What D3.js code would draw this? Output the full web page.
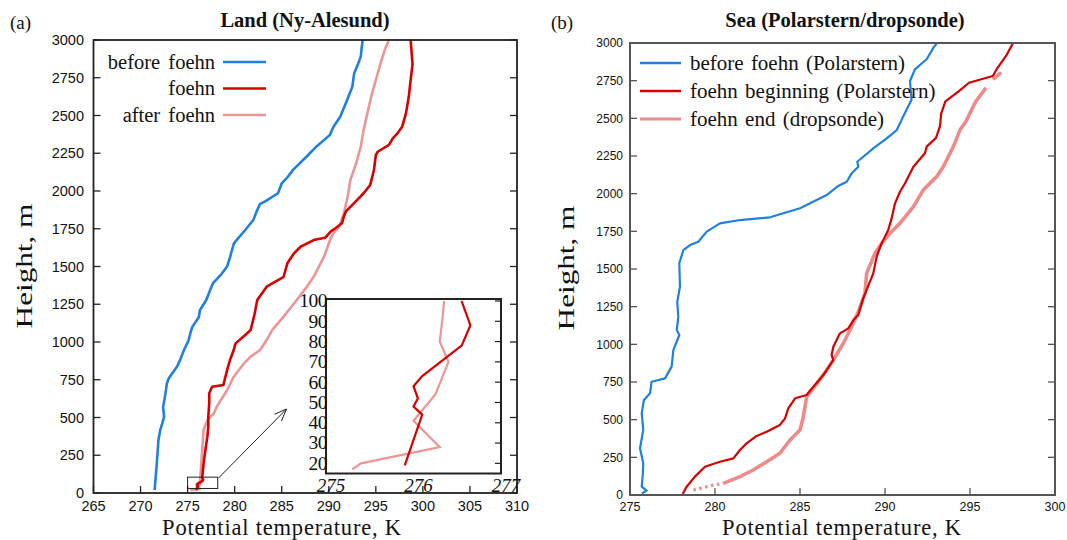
<!DOCTYPE html>
<html>
<head>
<meta charset="utf-8">
<script src="https://cdn.jsdelivr.net/npm/d3@7"></script>
<style>
  html, body { margin: 0; padding: 0; background: #fff; }
  svg { display: block; }
  .tick-sans { font-family: "Liberation Sans", Arial, sans-serif; fill: #111; }
  .serif { font-family: "Liberation Serif", "Times New Roman", serif; fill: #111; }
</style>
</head>
<body>
<svg id="chart" width="1067" height="540"></svg>
<script>
// ---- Land (Ny-Alesund): potential temperature [K] vs height [m] ----
const landBefore = [
  [271.5,20],[271.6,100],[271.7,175],[271.8,260],[271.9,350],[272.1,420],[272.3,460],[272.5,505],
  [272.4,570],[272.6,640],[272.8,725],[273.0,760],[273.9,840],[274.2,880],[274.6,945],[275.1,1010],
  [275.3,1060],[275.5,1100],[276.2,1165],[276.3,1210],[277.0,1280],[277.3,1330],[277.7,1390],
  [278.6,1450],[279.2,1500],[279.5,1560],[279.9,1650],[280.2,1675],[281.1,1740],[282.0,1810],
  [282.3,1860],[282.7,1915],[283.2,1930],[284.6,1985],[285.0,2050],[285.6,2090],[286.2,2140],
  [287.6,2225],[288.7,2295],[290.1,2370],[290.5,2425],[291.2,2490],[291.8,2580],[292.5,2690],
  [292.7,2780],[293.1,2840],[293.4,2890],[293.5,2950],[293.6,3000]
];
const landFoehn = [
  [275.9,19],[276.1,44],[276.0,48],[276.05,52],[276.0,58],[276.1,63],[276.55,78],[276.65,88],
  [276.55,100],[276.7,196],[276.9,290],[277.1,373],[277.2,440],[277.2,505],[277.3,600],[277.3,660],
  [277.6,704],[278.8,715],[279.2,815],[279.5,880],[279.9,947],[280.1,991],[281.0,1040],[281.7,1080],
  [282.1,1180],[282.4,1278],[283.4,1366],[285.2,1432],[285.6,1521],[286.3,1587],[287.0,1631],
  [288.4,1675],[289.6,1690],[290.2,1731],[290.7,1753],[291.4,1786],[291.6,1830],[291.8,1863],
  [293.0,1940],[293.7,1985],[294.4,2040],[294.8,2139],[295.0,2238],[295.2,2260],[296.4,2305],
  [296.8,2349],[297.3,2382],[297.8,2426],[298.2,2514],[298.5,2624],[298.7,2735],[298.9,2840],
  [298.8,2920],[298.7,3000]
];
const landAfter = [
  [275.3,17],[275.4,20],[276.3,28],[276.0,41],[276.25,54],[276.4,70],[276.3,80],[276.33,91],
  [276.35,100],[276.5,240],[276.7,417],[277.1,483],[277.8,528],[278.1,571],[279.2,682],[279.9,770],
  [281.0,859],[281.7,903],[282.7,947],[283.4,1013],[284.0,1080],[285.2,1168],[286.6,1278],
  [287.6,1360],[288.4,1432],[289.5,1565],[290.2,1687],[290.5,1720],[291.1,1764],[291.6,1852],
  [292.0,1962],[292.3,2073],[292.9,2183],[293.4,2293],[293.7,2404],[294.1,2514],[294.5,2624],
  [295.0,2735],[295.5,2845],[296.0,2944],[296.4,3000]
];

// ---- Sea (Polarstern / dropsonde) ----
const seaBefore = [
  [275.69,11],[275.98,29],[275.69,55],[275.75,130],[275.78,210],[275.59,310],[275.78,431],
  [275.69,542],[275.82,631],[276.18,675],[276.27,752],[277.06,774],[277.45,852],[277.55,962],
  [277.90,1062],[277.75,1095],[277.84,1183],[277.78,1283],[277.94,1383],[277.90,1538],
  [278.14,1626],[278.53,1659],[279.02,1681],[279.51,1748],[280.29,1803],[281.47,1825],
  [283.24,1843],[284.02,1870],[285.0,1903],[285.59,1936],[286.57,1991],[287.25,2051],
  [287.75,2079],[288.04,2135],[288.43,2179],[288.37,2212],[289.31,2301],[290.1,2367],
  [290.69,2422],[290.9,2470],[291.06,2511],[291.56,2624],[291.47,2748],[291.76,2825],
  [292.46,2894],[292.86,2971],[293.06,3000]
];
const seaFoehnBegin = [
  [278.1,7],[278.33,55],[278.82,122],[279.41,188],[279.71,199],[280.29,221],[281.08,243],
  [281.47,299],[281.86,343],[282.45,392],[283.04,420],[283.82,465],[284.12,509],[284.31,575],
  [284.71,642],[285.39,664],[285.5,680],[285.8,720],[286.4,800],[286.96,896],[286.86,929],
  [286.96,984],[287.35,1073],[287.84,1106],[288.14,1161],[288.43,1195],[288.72,1305],
  [288.92,1361],[289.31,1471],[289.51,1582],[289.80,1670],[290.19,1759],[290.39,1836],
  [290.59,1936],[290.88,2013],[291.18,2069],[291.67,2179],[292.35,2268],[292.45,2312],
  [293.0,2370],[293.24,2450],[293.3,2530],[293.55,2612],[294.35,2680],[294.94,2736],
  [296.34,2781],[296.63,2837],[297.13,2916],[297.53,3000]
];
// first few metres of the dropsonde are sparse and drawn dotted
const seaFoehnEndLow = [[278.73,33],[279.9,66],[280.49,77]];
const seaFoehnEnd = [
  [280.49,77],[281.47,122],[282.25,166],[283.04,221],[283.82,277],[284.41,365],[285.0,431],
  [285.2,520],[285.39,652],[285.78,708],[286.57,830],[286.96,896],[287.55,1007],[288.04,1117],
  [288.43,1217],[288.82,1339],[288.92,1471],[289.12,1526],[289.41,1604],[289.80,1670],
  [290.29,1737],[290.88,1803],[291.67,1914],[292.25,2024],[293.04,2113],[293.43,2179],
  [294.02,2312],[294.41,2422],[294.75,2478],[295.34,2612],[295.94,2702],[null,null],
  [296.34,2758],[296.83,2803]
];

// axis ticks
const landTempTicks = d3.range(265, 311, 5);
const seaTempTicks = d3.range(275, 301, 5);
const heightTicks = d3.range(0, 3001, 250);
const insetTempTicks = [275, 276, 277];
const insetHeightTicks = [20, 30, 40, 50, 60, 70, 80, 90, 100];

const colBlue = "#1f80e0";
const colRed = "#d60000";
const colPinkLand = "#ea9696";
const colPinkSea = "#ee8a8a";

const svg = d3.select("#chart");

function drawFrame(g, x, y, opts) {
  const [x0, x1] = x.range();
  const [y0, y1] = y.range();
  // inward ticks: left, right, bottom
  const tl = opts.tickLen;
  g.selectAll(null).data(opts.yTicks).join("line")
    .attr("x1", x0).attr("x2", x0 + tl).attr("y1", d => y(d)).attr("y2", d => y(d))
    .attr("stroke", opts.stroke).attr("stroke-width", 1.3);
  g.selectAll(null).data(opts.yTicks).join("line")
    .attr("x1", x1).attr("x2", x1 - tl).attr("y1", d => y(d)).attr("y2", d => y(d))
    .attr("stroke", opts.stroke).attr("stroke-width", 1.3);
  g.selectAll(null).data(opts.xTicks).join("line")
    .attr("x1", d => x(d)).attr("x2", d => x(d)).attr("y1", y0).attr("y2", y0 - tl)
    .attr("stroke", opts.stroke).attr("stroke-width", 1.3);
  g.append("rect")
    .attr("x", x0).attr("y", y1).attr("width", x1 - x0).attr("height", y0 - y1)
    .attr("fill", "none").attr("stroke", opts.stroke).attr("stroke-width", opts.frameWidth);
  g.selectAll(null).data(opts.yTicks).join("text")
    .attr("class", "tick-sans")
    .attr("x", x0 - opts.yLabelGap).attr("y", d => y(d)).attr("dy", "0.36em")
    .attr("text-anchor", "end").attr("font-size", opts.yFont)
    .text(d => d);
  g.selectAll(null).data(opts.xTicks).join("text")
    .attr("class", "tick-sans")
    .attr("x", d => x(d)).attr("y", y0 + opts.xLabelDy)
    .attr("text-anchor", "middle").attr("font-size", opts.xFont)
    .text(d => d);
}

function profileLine(x, y) {
  return d3.line()
    .defined(d => d[0] != null)
    .x(d => x(d[0])).y(d => y(d[1]))
    .curve(d3.curveLinear);
}

// vertical axis title, stretched along its reading direction
function heightTitle(g, cx, cy) {
  g.append("text").attr("class", "serif").attr("font-size", 24)
    .attr("transform", `translate(${cx},${cy}) rotate(-90) scale(1.3,1)`)
    .attr("text-anchor", "middle")
    .text("Height, m");
}

function tempTitle(g, cx) {
  g.append("text").attr("class", "serif").attr("font-size", 22.5)
    .attr("letter-spacing", 0.8)
    .attr("x", cx).attr("y", 535).attr("text-anchor", "middle")
    .text("Potential temperature, K");
}

// ================= (a) Land =================
{
  const g = svg.append("g");
  const x = d3.scaleLinear().domain([265, 310]).range([93.5, 517]);
  const y = d3.scaleLinear().domain([0, 3000]).range([493, 40]);

  const line = profileLine(x, y);
  g.append("clipPath").attr("id", "clipLand").append("rect")
    .attr("x", 93.5).attr("y", 40).attr("width", 517 - 93.5).attr("height", 453);
  const plot = g.append("g").attr("clip-path", "url(#clipLand)");
  [[landAfter, colPinkLand], [landFoehn, colRed], [landBefore, colBlue]].forEach(([data, c]) => {
    plot.append("path").datum(data).attr("d", line)
      .attr("fill", "none").attr("stroke", c).attr("stroke-width", 2.6)
      .attr("stroke-linejoin", "round");
  });

  drawFrame(g, x, y, {
    xTicks: landTempTicks, yTicks: heightTicks, tickLen: 7, stroke: "#222",
    frameWidth: 1.8, yFont: 14.5, xFont: 14.5, xLabelDy: 18, yLabelGap: 9.5
  });

  // marker box around the near-surface layer and arrow to the inset
  g.append("rect")
    .attr("x", x(275)).attr("y", y(105))
    .attr("width", x(278.2) - x(275)).attr("height", y(30) - y(105))
    .attr("fill", "none").attr("stroke", "#222").attr("stroke-width", 1);
  const ax0 = x(278.3), ay0 = y(100), ax1 = 286.5, ay1 = 409;
  g.append("line").attr("x1", ax0).attr("y1", ay0).attr("x2", ax1).attr("y2", ay1)
    .attr("stroke", "#222").attr("stroke-width", 1);
  const ang = Math.atan2(ay1 - ay0, ax1 - ax0);
  const hl = 13, ha = 0.38;
  g.append("path")
    .attr("d", `M${ax1 - hl * Math.cos(ang - ha)},${ay1 - hl * Math.sin(ang - ha)} L${ax1},${ay1} L${ax1 - hl * Math.cos(ang + ha)},${ay1 - hl * Math.sin(ang + ha)}`)
    .attr("fill", "none").attr("stroke", "#222").attr("stroke-width", 1);

  // inset: lowest 100 m
  const xi = d3.scaleLinear().domain([275, 277]).range([326, 501]);
  const yi = d3.scaleLinear().domain([15, 100]).range([473.5, 301]);
  const gi = g.append("g");
  gi.append("rect").attr("x", 326).attr("y", 299).attr("width", 175).attr("height", 174.5)
    .attr("fill", "#fff");
  gi.append("clipPath").attr("id", "clipInset").append("rect")
    .attr("x", 326).attr("y", 299).attr("width", 175).attr("height", 174.5);
  const iline = profileLine(xi, yi);
  const ip = gi.append("g").attr("clip-path", "url(#clipInset)");
  ip.append("path").datum(landAfter.filter(d => d[1] <= 100)).attr("d", iline)
    .attr("fill", "none").attr("stroke", colPinkLand).attr("stroke-width", 2.2);
  ip.append("path").datum(landFoehn.filter(d => d[1] <= 100)).attr("d", iline)
    .attr("fill", "none").attr("stroke", colRed).attr("stroke-width", 2.2);
  gi.selectAll(null).data(insetHeightTicks).join("line")
    .attr("x1", 501).attr("x2", 495).attr("y1", d => yi(d)).attr("y2", d => yi(d))
    .attr("stroke", "#222").attr("stroke-width", 1.2);
  gi.append("rect").attr("x", 326).attr("y", 299).attr("width", 175).attr("height", 174.5)
    .attr("fill", "none").attr("stroke", "#222").attr("stroke-width", 2);
  gi.selectAll(null).data(insetHeightTicks).join("text")
    .attr("class", "serif").attr("font-size", 19.5)
    .attr("x", 327).attr("y", d => yi(d)).attr("dy", "0.33em")
    .attr("text-anchor", "end").attr("letter-spacing", -0.5)
    .text(d => d);
  gi.selectAll(null).data(insetTempTicks).join("text")
    .attr("class", "serif").attr("font-size", 19)
    .attr("x", d => xi(d)).attr("dx", 5).attr("y", 492)
    .attr("text-anchor", "middle").attr("font-style", "italic")
    .text(d => d);

  // legend
  const legend = [["before foehn", colBlue], ["foehn", colRed], ["after foehn", colPinkLand]];
  legend.forEach(([label, c], i) => {
    const ly = 62 + i * 26.5;
    g.append("text").attr("class", "serif").attr("font-size", 20.5)
      .attr("x", 215).attr("y", ly).attr("dy", "0.32em").attr("text-anchor", "end")
      .attr("word-spacing", 3).text(label);
    g.append("line").attr("x1", 223).attr("x2", 266).attr("y1", ly).attr("y2", ly)
      .attr("stroke", c).attr("stroke-width", 2.4);
  });

  g.append("text").attr("class", "serif").attr("font-size", 20.5).attr("font-weight", "bold")
    .attr("x", 305).attr("y", 27).attr("text-anchor", "middle").text("Land (Ny-Alesund)");
  g.append("text").attr("class", "serif").attr("font-size", 19)
    .attr("x", 10).attr("y", 29).text("(a)");
  tempTitle(g, 282);
  heightTitle(g, 32, 266);
}

// ================= (b) Sea =================
{
  const g = svg.append("g");
  const x = d3.scaleLinear().domain([275, 300]).range([630, 1055]);
  const y = d3.scaleLinear().domain([0, 3000]).range([495, 43]);
  const line = profileLine(x, y);
  g.append("clipPath").attr("id", "clipSea").append("rect")
    .attr("x", 630).attr("y", 43).attr("width", 425).attr("height", 452);
  const plot = g.append("g").attr("clip-path", "url(#clipSea)");

  plot.append("path").datum(seaFoehnEndLow).attr("d", line)
    .attr("fill", "none").attr("stroke", colPinkSea).attr("stroke-width", 3.2)
    .attr("stroke-dasharray", "2.5,3.5");
  plot.append("path").datum(seaFoehnEnd).attr("d", line)
    .attr("fill", "none").attr("stroke", colPinkSea).attr("stroke-width", 3.6)
    .attr("stroke-linejoin", "round");
  plot.append("path").datum(seaFoehnBegin).attr("d", line)
    .attr("fill", "none").attr("stroke", colRed).attr("stroke-width", 2.2)
    .attr("stroke-linejoin", "round");
  plot.append("path").datum(seaBefore).attr("d", line)
    .attr("fill", "none").attr("stroke", colBlue).attr("stroke-width", 2.2)
    .attr("stroke-linejoin", "round");

  drawFrame(g, x, y, {
    xTicks: seaTempTicks, yTicks: heightTicks, tickLen: 7, stroke: "#555",
    frameWidth: 2, yFont: 12, xFont: 12.5, xLabelDy: 16, yLabelGap: 7
  });

  const legend = [
    ["before foehn (Polarstern)", colBlue],
    ["foehn beginning (Polarstern)", colRed],
    ["foehn end (dropsonde)", colPinkSea]
  ];
  legend.forEach(([label, c], i) => {
    const ly = 63 + i * 28;
    g.append("line").attr("x1", 640).attr("x2", 681).attr("y1", ly).attr("y2", ly)
      .attr("stroke", c).attr("stroke-width", i === 2 ? 3 : 2.4);
    g.append("text").attr("class", "serif").attr("font-size", 21)
      .attr("x", 690).attr("y", ly).attr("dy", "0.32em").attr("word-spacing", 2)
      .text(label);
  });

  g.append("text").attr("class", "serif").attr("font-size", 20.5).attr("font-weight", "bold")
    .attr("x", 845).attr("y", 27).attr("text-anchor", "middle").text("Sea (Polarstern/dropsonde)");
  g.append("text").attr("class", "serif").attr("font-size", 19)
    .attr("x", 551).attr("y", 29).text("(b)");
  tempTitle(g, 842);
  heightTitle(g, 574, 268);
}
</script>
</body>
</html>
